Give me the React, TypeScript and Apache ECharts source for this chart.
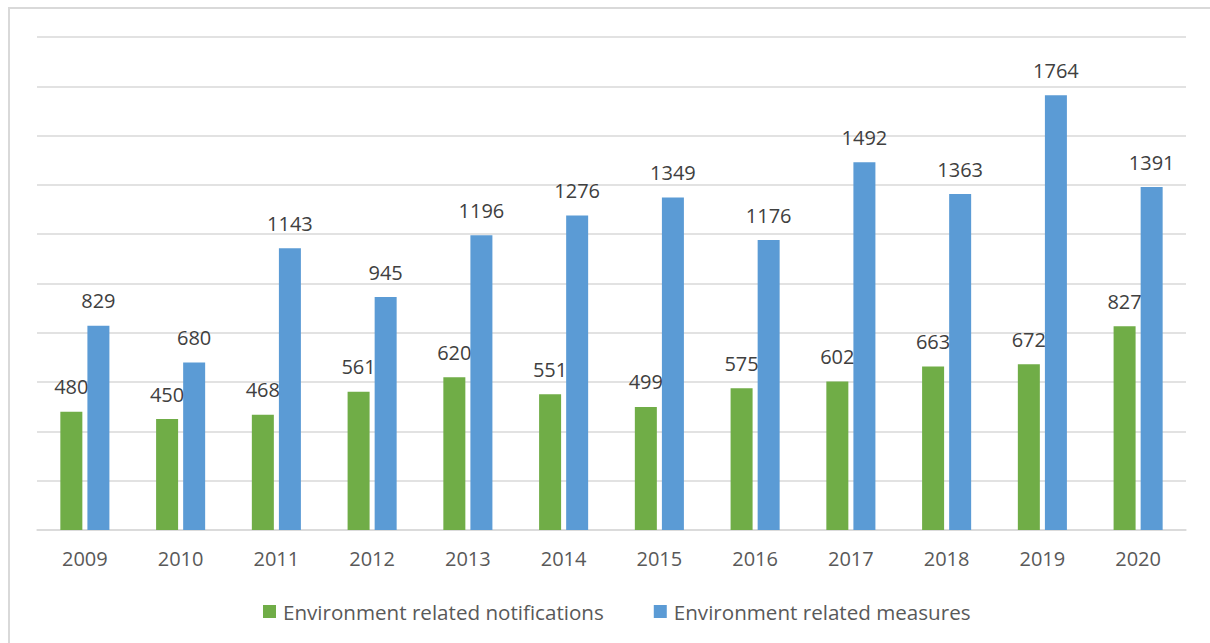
import React, { useEffect, useRef } from "react";
import * as echarts from "echarts";

const years = ["2009", "2010", "2011", "2012", "2013", "2014", "2015", "2016", "2017", "2018", "2019", "2020"];
const notifications = [480, 450, 468, 561, 620, 551, 499, 575, 602, 663, 672, 827];
const measures = [829, 680, 1143, 945, 1196, 1276, 1349, 1176, 1492, 1363, 1764, 1391];
const seriesNames = ["Environment related notifications", "Environment related measures"];

const FONT = "'Open Sans', 'Noto Sans', sans-serif";

export default function App() {
  const ref = useRef<HTMLDivElement>(null);
  useEffect(() => {
    const chart = echarts.init(ref.current!, undefined, { renderer: "svg" });
    const label = {
      show: true,
      position: "top",
      distance: 15,
      color: "#404040",
      fontSize: 20,
      fontFamily: FONT,
    };
    chart.setOption({
      animation: false,
      backgroundColor: "#ffffff",
      graphic: [
        {
          type: "rect",
          shape: { x: 9, y: 8, width: 1250, height: 700 },
          style: { fill: "none", stroke: "#d9d9d9", lineWidth: 2 },
          silent: true,
        },
      ],
      grid: { left: 37, right: 24, top: 37, bottom: 113 },
      legend: {
        left: 258,
        top: 596,
        icon: "rect",
        itemWidth: 13,
        itemHeight: 13,
        itemGap: 50,
        textStyle: { color: "#595959", fontSize: 20.6, fontFamily: FONT, padding: [0, 0, 0, 2] },
        data: seriesNames,
      },
      xAxis: {
        type: "category",
        data: years,
        axisLine: { show: true, lineStyle: { color: "#d9d9d9", width: 1.5 } },
        axisTick: { show: false },
        axisLabel: { color: "#595959", fontSize: 20, fontFamily: FONT, margin: 18 },
      },
      yAxis: {
        type: "value",
        min: 0,
        max: 2000,
        interval: 200,
        axisLabel: { show: false },
        axisLine: { show: false },
        axisTick: { show: false },
        splitLine: { lineStyle: { color: "#d9d9d9", width: 1.5 } },
      },
      series: [
        {
          name: seriesNames[0],
          type: "bar",
          data: notifications,
          barWidth: 22,
          barGap: "23%",
          itemStyle: { color: "#70ad47" },
          label,
        },
        {
          name: seriesNames[1],
          type: "bar",
          data: measures,
          barWidth: 22,
          itemStyle: { color: "#5b9bd5" },
          label,
        },
      ],
    });
    return () => chart.dispose();
  }, []);
  return (
    <div
      ref={ref}
      style={{ position: "fixed", left: 0, top: 0, width: 1210, height: 643 }}
    />
  );
}
